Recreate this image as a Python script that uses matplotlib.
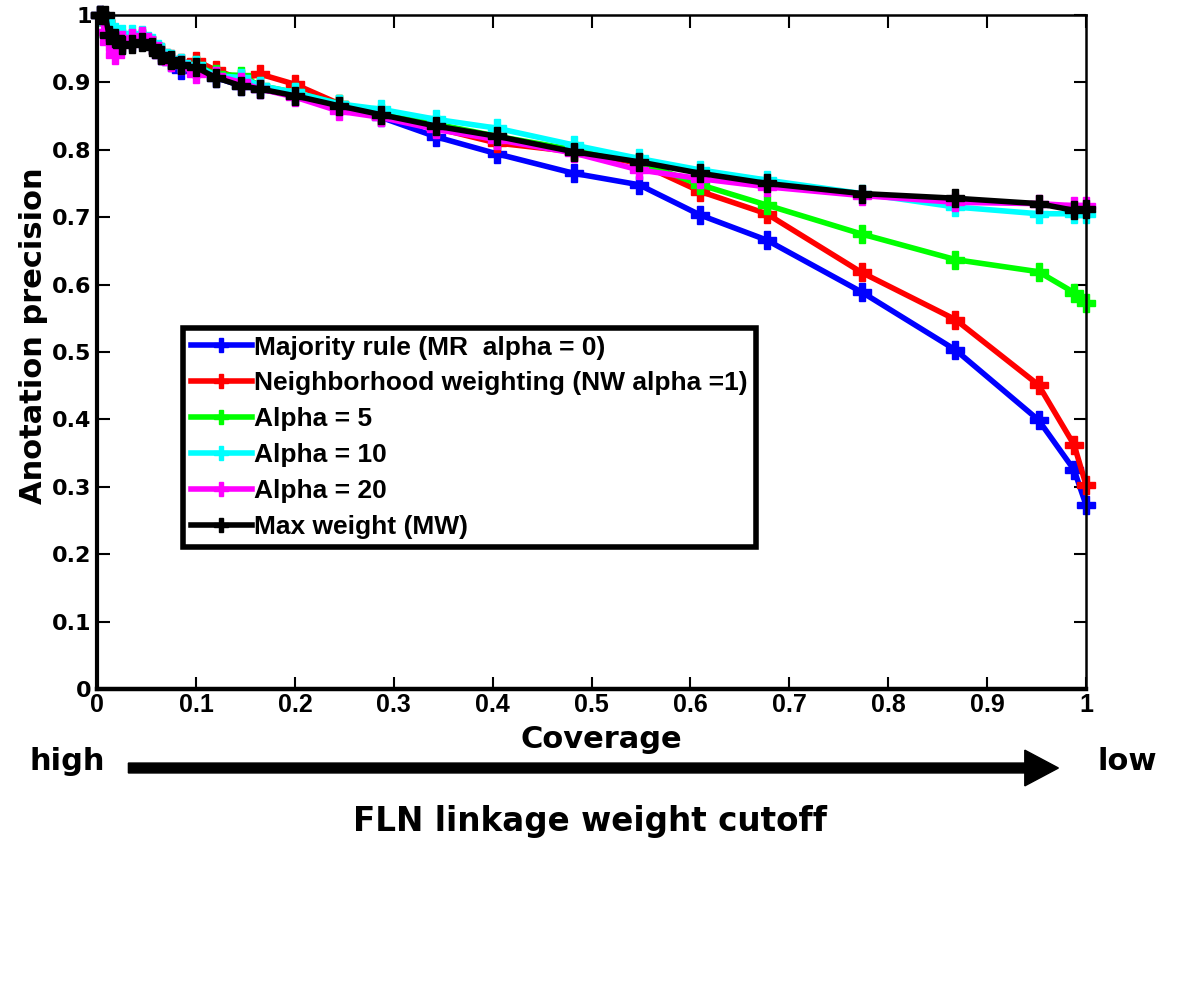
import matplotlib.pyplot as plt
from matplotlib.patches import FancyArrow

plt.rcParams['font.family'] = ['Liberation Sans', 'DejaVu Sans']
plt.rcParams['font.weight'] = 'bold'

# coverage values (x) shared by all curves
coverage = [0.003, 0.008, 0.012, 0.018, 0.025, 0.035, 0.045, 0.055, 0.065, 0.075,
            0.085, 0.10, 0.12, 0.145, 0.165, 0.20, 0.245, 0.287, 0.343, 0.404,
            0.482, 0.548, 0.610, 0.677, 0.773, 0.868, 0.952, 0.988, 1.0]

majority = [1.0, 0.99, 0.97, 0.962, 0.957, 0.96, 0.962, 0.955, 0.94, 0.93,
            0.918, 0.92, 0.907, 0.895, 0.89, 0.88, 0.865, 0.848, 0.819, 0.794,
            0.765, 0.748, 0.703, 0.666, 0.589, 0.503, 0.399, 0.325, 0.273]
neighborhood = [1.0, 0.99, 0.972, 0.965, 0.96, 0.962, 0.965, 0.956, 0.945, 0.935,
                0.928, 0.932, 0.918, 0.905, 0.912, 0.897, 0.868, 0.85, 0.832, 0.81,
                0.797, 0.78, 0.738, 0.705, 0.618, 0.548, 0.451, 0.362, 0.303]
alpha5 = [1.0, 0.99, 0.972, 0.968, 0.965, 0.965, 0.966, 0.956, 0.943, 0.933,
          0.927, 0.925, 0.912, 0.91, 0.895, 0.885, 0.868, 0.855, 0.838, 0.82,
          0.8, 0.782, 0.748, 0.718, 0.675, 0.637, 0.619, 0.588, 0.572]
alpha10 = [1.0, 0.99, 0.975, 0.975, 0.972, 0.972, 0.97, 0.958, 0.945, 0.935,
           0.928, 0.925, 0.91, 0.907, 0.895, 0.885, 0.868, 0.86, 0.845, 0.832,
           0.807, 0.787, 0.77, 0.755, 0.735, 0.715, 0.705, 0.705, 0.705]
alpha20 = [1.0, 0.975, 0.96, 0.94, 0.962, 0.965, 0.968, 0.955, 0.94, 0.93,
           0.925, 0.912, 0.91, 0.9, 0.89, 0.878, 0.857, 0.848, 0.83, 0.815,
           0.795, 0.77, 0.757, 0.745, 0.732, 0.722, 0.72, 0.717, 0.717]
max_weight = [1.0, 1.0, 0.97, 0.965, 0.955, 0.957, 0.96, 0.952, 0.94, 0.933,
              0.925, 0.922, 0.907, 0.895, 0.89, 0.88, 0.865, 0.852, 0.835, 0.82,
              0.797, 0.782, 0.765, 0.75, 0.735, 0.728, 0.72, 0.71, 0.712]

series = [
    ('Majority rule (MR  alpha = 0)', majority, '#0000ff'),
    ('Neighborhood weighting (NW alpha =1)', neighborhood, '#ff0000'),
    ('Alpha = 5', alpha5, '#00ff00'),
    ('Alpha = 10', alpha10, '#00ffff'),
    ('Alpha = 20', alpha20, '#ff00ff'),
    ('Max weight (MW)', max_weight, '#000000'),
]

tick_labels = ['0', '0.1', '0.2', '0.3', '0.4', '0.5', '0.6', '0.7', '0.8', '0.9', '1']
wide = ['DejaVu Sans']

fig = plt.figure(figsize=(12, 9.92), dpi=100)
ax = fig.add_axes([0.081, 0.3054, 0.824, 0.6796])

for name, vals, col in series:
    ax.plot(coverage, vals, color=col, lw=4, marker='P', ms=13,
            mec=col, mfc=col, label=name, clip_on=False)

ax.set_xlim(0, 1)
ax.set_ylim(0, 1)
ax.set_xticks([i / 10 for i in range(11)])
ax.set_xticklabels(tick_labels, fontsize=18, fontweight='bold')
ax.set_yticks([i / 10 for i in range(11)])
ax.set_yticklabels(tick_labels, fontsize=16, fontweight='bold', family=wide)
ax.tick_params(direction='in', top=True, right=True, length=9, width=1.5, pad=4)
ax.tick_params(axis='x', pad=3)
for s in ax.spines.values():
    s.set_linewidth(1.8)
ax.spines['bottom'].set_linewidth(3.2)
ax.spines['left'].set_linewidth(3)

ax.set_xlabel('Coverage', fontsize=22, fontweight='bold', family=wide)
ax.xaxis.set_label_coords(0.51, -0.053)
ax.set_ylabel('Anotation precision', fontsize=22, fontweight='bold', family=wide)
ax.yaxis.set_label_coords(-0.05, 0.524)

leg = ax.legend(loc='upper left', bbox_to_anchor=(0.087, 0.536), fontsize=19,
                frameon=True, fancybox=False, framealpha=1, handlelength=2.3,
                handletextpad=0.1, borderpad=0.3, labelspacing=0.45,
                markerscale=0.8, borderaxespad=0)
leg.get_frame().set_edgecolor('black')
leg.get_frame().set_linewidth(4)
for t in leg.get_texts():
    t.set_fontweight('bold')

# direction arrow under the axis
fig.text(0.025, 0.232, 'high', fontsize=22, fontweight='bold', va='center', family=wide)
fig.text(0.915, 0.232, 'low', fontsize=22, fontweight='bold', va='center', family=wide)
fig.patches.append(FancyArrow(
    0.107, 0.2258, 0.775, 0, width=0.01, head_width=0.036, head_length=0.028,
    length_includes_head=True, color='black', transform=fig.transFigure))
fig.text(0.492, 0.172, 'FLN linkage weight cutoff', fontsize=23.5, fontweight='bold',
         ha='center', va='center', family=wide)

fig.savefig('out.png', dpi=100, facecolor='white')
